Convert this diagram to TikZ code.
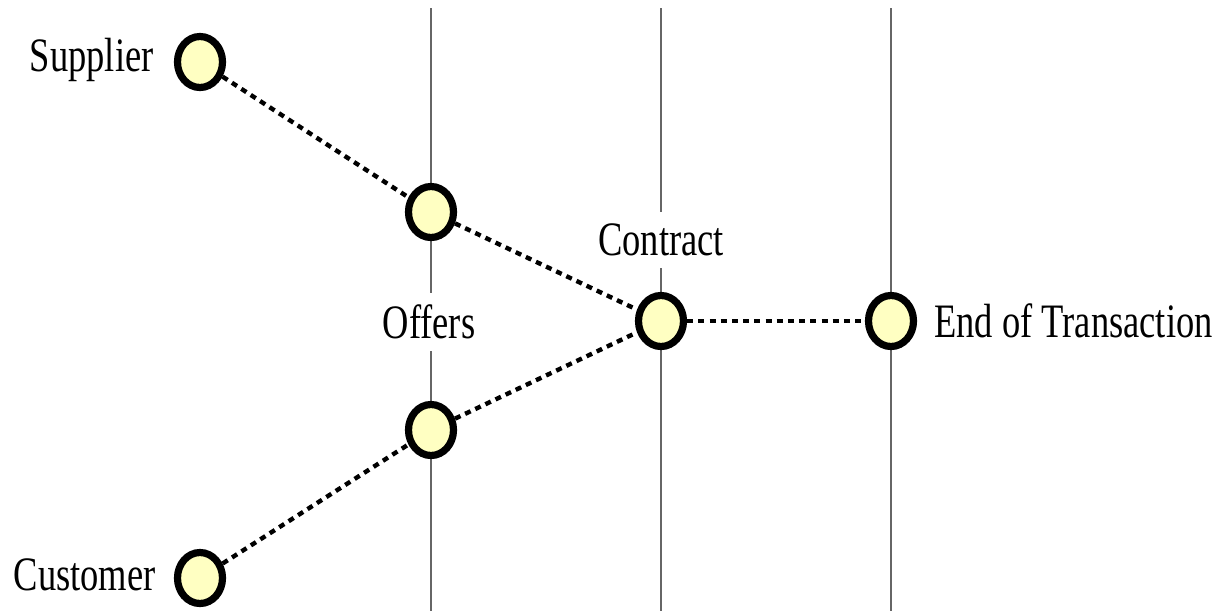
\documentclass[tikz,border=0pt]{standalone}
\usepackage{fontspec}
\setmainfont{Liberation Serif}
\usetikzlibrary{shapes.geometric}
\definecolor{nodefill}{HTML}{FFFFC2}
\newcommand{\lbl}[1]{\scalebox{0.76}[1]{#1}}
\tikzset{
  state/.style={ellipse, draw=black, line width=3.6pt, fill=nodefill, minimum width=22.5pt, minimum height=25.5pt, inner sep=0pt},
  link/.style={line width=2.2pt, dash pattern=on 3pt off 2.6pt},
  lane/.style={draw=black!60, line width=0.7pt},
  txt/.style={font=\fontsize{24}{28}\selectfont, inner sep=1pt},
  gap/.style={txt, fill=white, inner ysep=6pt, inner xsep=2pt}
}
\begin{document}
\begin{tikzpicture}[x=0.5pt,y=-0.5pt]
\useasboundingbox (0,0) rectangle (1220,611);
\fill[white] (0,0) rectangle (1220,611);
% vertical lanes
\coordinate (t1) at (431,8); \coordinate (b1) at (431,611);
\coordinate (t2) at (661,8); \coordinate (b2) at (661,611);
\coordinate (t3) at (891,8); \coordinate (b3) at (891,611);
\draw[lane] (t1) -- (b1);
\draw[lane] (t2) -- (b2);
\draw[lane] (t3) -- (b3);
% labels on lanes
\node[gap] (offers) at (429,322) {\lbl{Offers}};
\node[gap] (contractlbl) at (661,240) {\lbl{Contract}};
% states
\node[state] (sup) at (200,62) {};
\node[state] (o1) at (431,212) {};
\node[state] (con) at (661,321) {};
\node[state] (end) at (891,321) {};
\node[state] (o2) at (431,430) {};
\node[state] (cus) at (200,578) {};
% connectors
\draw[link] (sup) -- (o1);
\draw[link] (o1) -- (con);
\draw[link] (o2) -- (con);
\draw[link] (cus) -- (o2);
\draw[link] (con) -- (end);
% side labels
\node[txt, anchor=base east] (suplbl) at (156,71) {\lbl{Supplier}};
\node[txt, anchor=base east] (cuslbl) at (158,590) {\lbl{Customer}};
\node[txt, anchor=base west] (endlbl) at (932,337) {\lbl{End of Transaction}};
\end{tikzpicture}
\end{document}
